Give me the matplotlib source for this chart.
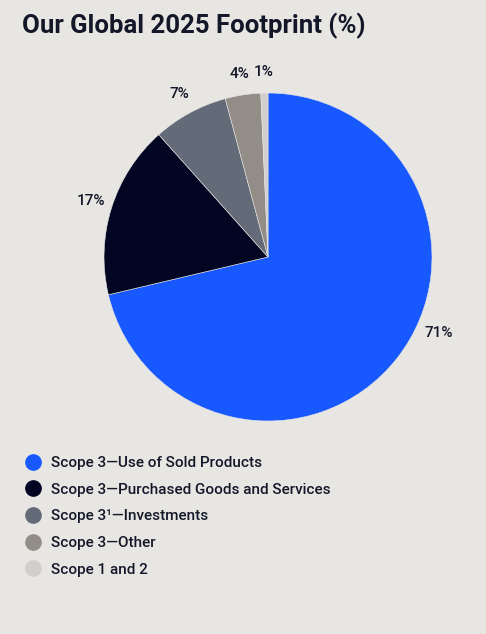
import matplotlib
matplotlib.use("Agg")
import matplotlib.pyplot as plt
from matplotlib.lines import Line2D
import numpy as np

categories = ["Scope 3\u2014Use of Sold Products",
              "Scope 3\u2014Purchased Goods and Services",
              "Scope 3\u00b9\u2014Investments",
              "Scope 3\u2014Other",
              "Scope 1 and 2"]
values = [71.3, 17.1, 7.4, 3.5, 0.7]
value_labels = ["71%", "17%", "7%", "4%", "1%"]
colors = ["#1758ff", "#020623", "#636b78", "#928d86", "#d0cfcd"]

bg = "#e8e6e3"
txt = "#131728"
plt.rcParams['font.family'] = ['Roboto', 'DejaVu Sans']

fig = plt.figure(figsize=(4.86, 6.34), dpi=100, facecolor=bg)

W, H = 486, 634
cx, cy, r = 268, 257, 164
ax = fig.add_axes([(cx - r) / W, (H - cy - r) / H, 2 * r / W, 2 * r / H])
ax.set_facecolor(bg)
wedges, texts = ax.pie(values, labels=value_labels, colors=colors,
                       startangle=90, counterclock=False, labeldistance=1.13,
                       wedgeprops=dict(linewidth=0.4, edgecolor=bg),
                       textprops=dict(fontsize=11, color=txt, fontweight='medium'))
for t in texts:
    t.set_ha('center')
    t.set_va('center')
# shift the large slice label toward the horizontal like the reference
ang = np.deg2rad(-24)
t0 = texts[0]
t0.set_position((1.14 * np.cos(ang), 1.14 * np.sin(ang)))
ax.set_xlim(-1, 1)
ax.set_ylim(-1, 1)
ax.set_aspect('equal')
ax.axis('off')

fig.text(22 / W, 1 - 26 / H, "Our Global 2025 Footprint (%)", fontsize=18.5,
         fontweight='bold', color=txt, ha='left', va='center')

handles = [Line2D([0], [0], marker='o', linestyle='none', markersize=11,
                  markerfacecolor=c, markeredgecolor=c) for c in colors]
leg = fig.legend(handles, categories, loc='upper left',
                 bbox_to_anchor=(22 / W, 1 - 456 / H), frameon=False,
                 prop=dict(size=11, weight='medium'),
                 labelspacing=0.83, handletextpad=0.5,
                 handlelength=1.4, borderaxespad=0, borderpad=0)
for t in leg.get_texts():
    t.set_color(txt)

fig.savefig("out.png", dpi=100, facecolor=bg)
